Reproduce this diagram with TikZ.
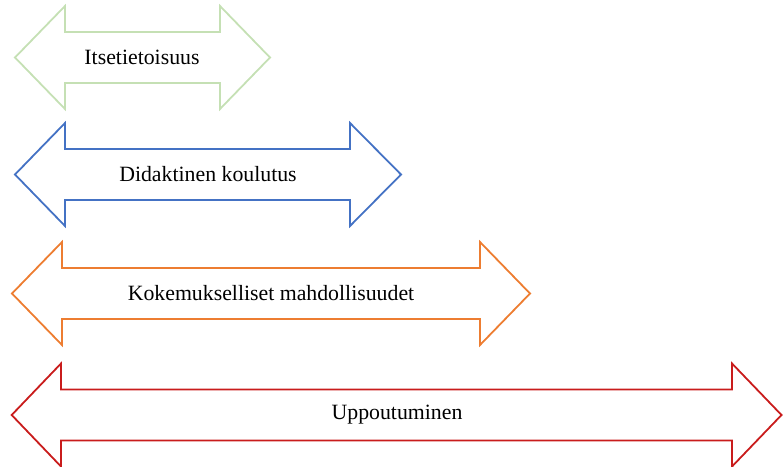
\documentclass[tikz,border=0pt]{standalone}
\usepackage{fontspec}
\setmainfont{Liberation Serif}
\definecolor{cgreen}{HTML}{C5E0B4}
\definecolor{cblue}{HTML}{4472C4}
\definecolor{corange}{HTML}{ED7D31}
\definecolor{cred}{HTML}{C91C1C}
\newcommand{\dblarrow}[6]{% color, ltip, lhead, rhead, rtip, cy
  \draw[arrowline, #1] (#2,#6) -- (#3,#6-51.5) -- (#3,#6-25.5) -- (#4,#6-25.5) -- (#4,#6-51.5)
    -- (#5,#6) -- (#4,#6+51.5) -- (#4,#6+25.5) -- (#3,#6+25.5) -- (#3,#6+51.5) -- cycle;}
\begin{document}
\begin{tikzpicture}[x=1pt,y=-1pt,
  arrowline/.style={line width=1.8pt, line join=miter},
  label/.style={font=\fontsize{21.8}{24}\selectfont, text=black, inner sep=0pt, anchor=center}]
\useasboundingbox (0,0) rectangle (783,466);
\dblarrow{cgreen}{15}{65}{220}{270}{57.5}
\dblarrow{cblue}{15}{65}{350}{401}{174.5}
\dblarrow{corange}{12}{62}{480}{530}{293.5}
\dblarrow{cred}{11.7}{61}{732}{781.5}{415}
\node[label] (t1) at (142,57.5) {Itsetietoisuus};
\node[label] (t2) at (208,174.5) {Didaktinen koulutus};
\node[label] (t3) at (271,293.5) {Kokemukselliset mahdollisuudet};
\node[label] (t4) at (397,415) {Uppoutuminen};
\end{tikzpicture}
\end{document}
